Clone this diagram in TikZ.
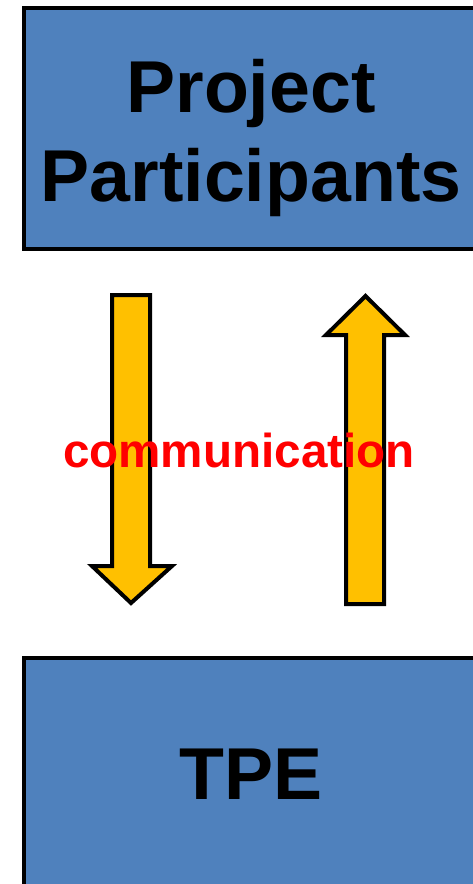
\documentclass[tikz,border=0pt]{standalone}
\usepackage{fontspec}
\setmainfont{Liberation Sans}
\definecolor{boxblue}{RGB}{79,129,189}
\definecolor{arrowyellow}{RGB}{255,192,0}
\begin{document}
\begin{tikzpicture}[x=1pt,y=-1pt,line join=miter]
	\tikzset{partybox/.style={draw=black,fill=boxblue,line width=4pt,minimum width=454pt,inner sep=0pt},
		boxtext/.style={anchor=base,inner sep=0pt,font=\bfseries\fontsize{73.5}{88}\selectfont},
		blockarrow/.style={draw=black,fill=arrowyellow,line width=4pt}}
	\useasboundingbox (0,0) rectangle (473,884);
	\clip (0,0) rectangle (473,884);
	\node[partybox,minimum height=241pt] (participants) at (251,128.5) {};
	\node[boxtext] (projecttext) at (251,112) {Project};
	\node[boxtext] (participantstext) at (251,201) {Participants};
	\node[partybox,minimum height=232pt] (tpe) at (251,774) {};
	\node[boxtext] (tpetext) at (251,799) {TPE};
	% down arrow
	\draw[blockarrow] (112,295)--(150,295)--(150,566)--(172,566)--(131,603)--(92,566)--(112,566)--cycle;
	% up arrow
	\draw[blockarrow] (346,604)--(384,604)--(384,335)--(405,335)--(365.5,296)--(326,335)--(346,335)--cycle;
	\node[anchor=base,text=red,font=\bfseries\fontsize{47.6}{57}\selectfont,inner sep=0pt] (comm) at (239,467) {communication};
\end{tikzpicture}
\end{document}
